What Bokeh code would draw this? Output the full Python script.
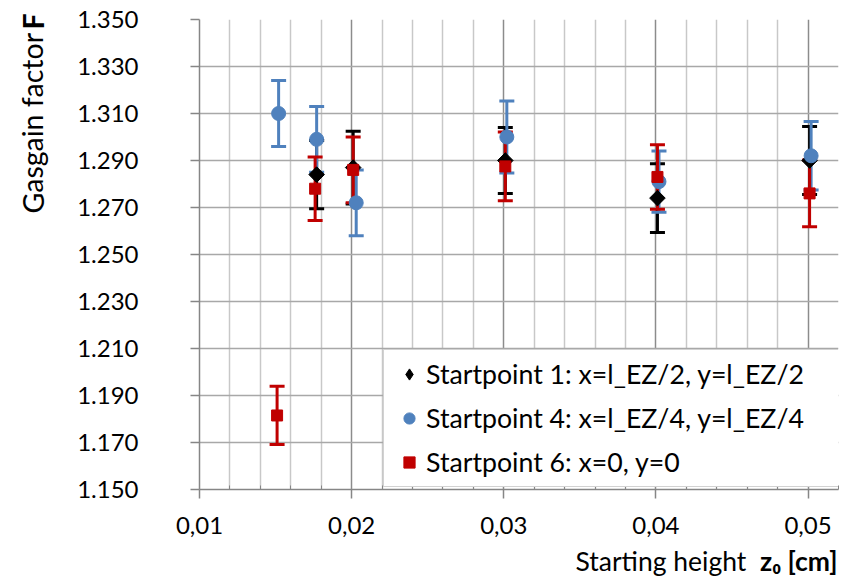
import math
from bokeh.plotting import figure
from bokeh.layouts import row, column
from bokeh.models import (ColumnDataSource, Whisker, TeeHead, FixedTicker, Label,
                          Legend, LegendItem, Range1d)
from bokeh.embed import file_html
from bokeh.resources import INLINE

# ---- data ----
sp1_x = [0.0177, 0.0201, 0.0301, 0.0401, 0.0501]
sp1_y = [1.284, 1.287, 1.290, 1.274, 1.290]
sp1_err = [0.0145, 0.0155, 0.0140, 0.0146, 0.0145]

sp4_x = [0.0152, 0.0177, 0.0203, 0.0302, 0.0402, 0.0502]
sp4_y = [1.310, 1.299, 1.272, 1.300, 1.281, 1.292]
sp4_err = [0.0140, 0.0140, 0.0140, 0.0153, 0.0130, 0.0146]

sp6_x = [0.0151, 0.0176, 0.0201, 0.0301, 0.0401, 0.0501]
sp6_y = [1.1815, 1.278, 1.286, 1.2875, 1.283, 1.276]
sp6_err = [0.0124, 0.0135, 0.0140, 0.0146, 0.0137, 0.0142]

labels = ["Startpoint 1: x=l_EZ/2, y=l_EZ/2",
          "Startpoint 4: x=l_EZ/4, y=l_EZ/4",
          "Startpoint 6: x=0, y=0"]
colors = ["#000000", "#4F81BD", "#C00000"]
markers = ["diamond", "circle", "square"]
sizes = [15, 14, 11]

x_ticks = [0.01, 0.02, 0.03, 0.04, 0.05]
x_tick_labels = ["0,01", "0,02", "0,03", "0,04", "0,05"]
x_minor = [0.012, 0.014, 0.016, 0.018, 0.022, 0.024, 0.026, 0.028, 0.032, 0.034,
           0.036, 0.038, 0.042, 0.044, 0.046, 0.048, 0.052]
y_ticks = [1.15, 1.17, 1.19, 1.21, 1.23, 1.25, 1.27, 1.29, 1.31, 1.33, 1.35]
y_tick_labels = ["1.150", "1.170", "1.190", "1.210", "1.230", "1.250",
                 "1.270", "1.290", "1.310", "1.330", "1.350"]

x_title = ["Starting height", "z₀ [cm]"]
y_title = ["Gasgain factor", "F"]

FONT = "Lato"
TICK_FS = "24px"
LEG_FS = "26.7px"
YTITLE_FS = "28.5px"
XTITLE_FS = "26.5px"

LEFT_W = 60          # width of the y-title strip
MAIN_H = 19 + 470 + 60
TOTAL_H = 582
BOTTOM_H = TOTAL_H - MAIN_H

# ---------------- main chart ----------------
p = figure(output_backend="svg", toolbar_location=None, title_location=None,
           x_range=Range1d(0.01, 0.052), y_range=Range1d(1.15, 1.35),
           min_border_left=139, min_border_right=6, min_border_top=19,
           min_border_bottom=60, frame_width=639, frame_height=470)
p.outline_line_color = None
p.background_fill_color = "white"
p.border_fill_color = "white"

p.xaxis.ticker = FixedTicker(ticks=x_ticks, minor_ticks=x_minor)
p.xaxis.major_label_overrides = dict(zip(x_ticks, x_tick_labels))
p.yaxis.ticker = FixedTicker(ticks=y_ticks)
p.yaxis.major_label_overrides = dict(zip(y_ticks, y_tick_labels))
for ax in (p.xaxis[0], p.yaxis[0]):
    ax.axis_label = None
    ax.axis_label_standoff = 0
    ax.axis_line_color = "#868686"
    ax.axis_line_width = 1.5
    ax.major_tick_line_color = "#868686"
    ax.major_tick_line_width = 1.5
    ax.major_label_text_font = FONT
    ax.major_label_text_font_size = TICK_FS
    ax.major_label_text_color = "#000000"
p.xaxis.major_tick_out = 9
p.xaxis.major_tick_in = 0
p.xaxis.minor_tick_in = 4
p.xaxis.minor_tick_out = 0
p.xaxis.minor_tick_line_color = "#868686"
p.xaxis.major_label_standoff = 18
p.yaxis.major_tick_out = 9
p.yaxis.major_tick_in = 0
p.yaxis.minor_tick_line_color = None
p.yaxis.major_label_standoff = 52

p.xgrid.grid_line_color = "#8C8C8C"
p.xgrid.grid_line_width = 1.5
p.xgrid.minor_grid_line_color = "#C8C8C8"
p.xgrid.minor_grid_line_width = 1.5
p.ygrid.grid_line_color = "#A8A8A8"
p.ygrid.grid_line_width = 1.5

series = [(sp1_x, sp1_y, sp1_err), (sp4_x, sp4_y, sp4_err), (sp6_x, sp6_y, sp6_err)]
sources = []
for (xs, ys, es), c in zip(series, colors):
    src = ColumnDataSource(dict(x=xs, y=ys,
                                lo=[y - e for y, e in zip(ys, es)],
                                hi=[y + e for y, e in zip(ys, es)]))
    sources.append(src)
    w = Whisker(source=src, base="x", lower="lo", upper="hi", dimension="height",
                line_color=c, line_width=3, level="underlay",
                upper_head=TeeHead(size=15, line_color=c, line_width=3),
                lower_head=TeeHead(size=15, line_color=c, line_width=3))
    p.add_layout(w)

items = []
for src, c, m, s, lab in zip(sources, colors, markers, sizes, labels):
    if m == "diamond":
        # wide Excel-style diamond: a square turned by 45 degrees
        p.scatter("x", "y", source=src, marker="square", angle=math.pi / 4,
                  size=11, fill_color=c, line_color=c, line_width=1)
    r = p.scatter("x", "y", source=src, marker=m, size=s, fill_color=c,
                  line_color=c, line_width=1)
    items.append(LegendItem(label=lab, renderers=[r]))

legend = Legend(items=items, location=(184, 2), orientation="vertical",
                label_text_font=FONT, label_text_font_size=LEG_FS,
                label_text_color="#000000",
                glyph_width=34, glyph_height=28, label_height=26,
                label_standoff=0, spacing=12, padding=8, margin=0,
                label_width=405,
                border_line_color="#A6A6A6", border_line_width=1.5,
                background_fill_color="white", background_fill_alpha=1.0)
p.add_layout(legend)

# ---------------- title strips ----------------
pl = figure(width=LEFT_W, height=TOTAL_H, output_backend="svg",
            toolbar_location=None, title_location=None,
            x_range=Range1d(0, LEFT_W), y_range=Range1d(0, TOTAL_H),
            min_border=0, x_axis_type=None, y_axis_type=None)
pl.outline_line_color = None
pl.grid.visible = False
pl.background_fill_color = "white"
pl.border_fill_color = "white"
pl.add_layout(Label(x=32, y=TOTAL_H - 213, text=y_title[0],
                    text_font=FONT, text_font_size=YTITLE_FS, text_color="#000000",
                    angle=1.5708, text_align="left", text_baseline="alphabetic"))
pl.add_layout(Label(x=32, y=TOTAL_H - 29, text=y_title[1],
                    text_font=FONT, text_font_size=YTITLE_FS, text_color="#000000",
                    text_font_style="bold",
                    angle=1.5708, text_align="left", text_baseline="alphabetic"))

pb = figure(output_backend="svg", toolbar_location=None, title_location=None,
            frame_width=639, frame_height=BOTTOM_H,
            min_border_left=139, min_border_right=6, min_border_top=0,
            min_border_bottom=0,
            x_range=Range1d(199, 838), y_range=Range1d(0, BOTTOM_H),
            x_axis_type=None, y_axis_type=None)
pb.outline_line_color = None
pb.grid.visible = False
pb.background_fill_color = "white"
pb.border_fill_color = "white"
pb.add_layout(Label(x=575, y=BOTTOM_H, y_offset=-11, text=x_title[0],
                    text_font=FONT, text_font_size=XTITLE_FS, text_color="#000000",
                    text_align="left", text_baseline="alphabetic"))
pb.add_layout(Label(x=837, y=BOTTOM_H, y_offset=-11, text=x_title[1],
                    text_font=FONT, text_font_size=XTITLE_FS, text_color="#000000",
                    text_font_style="bold",
                    text_align="right", text_baseline="alphabetic"))

layout = row(pl, column(p, pb, spacing=0), spacing=0)

open("out.html", "w").write(file_html(layout, INLINE))
